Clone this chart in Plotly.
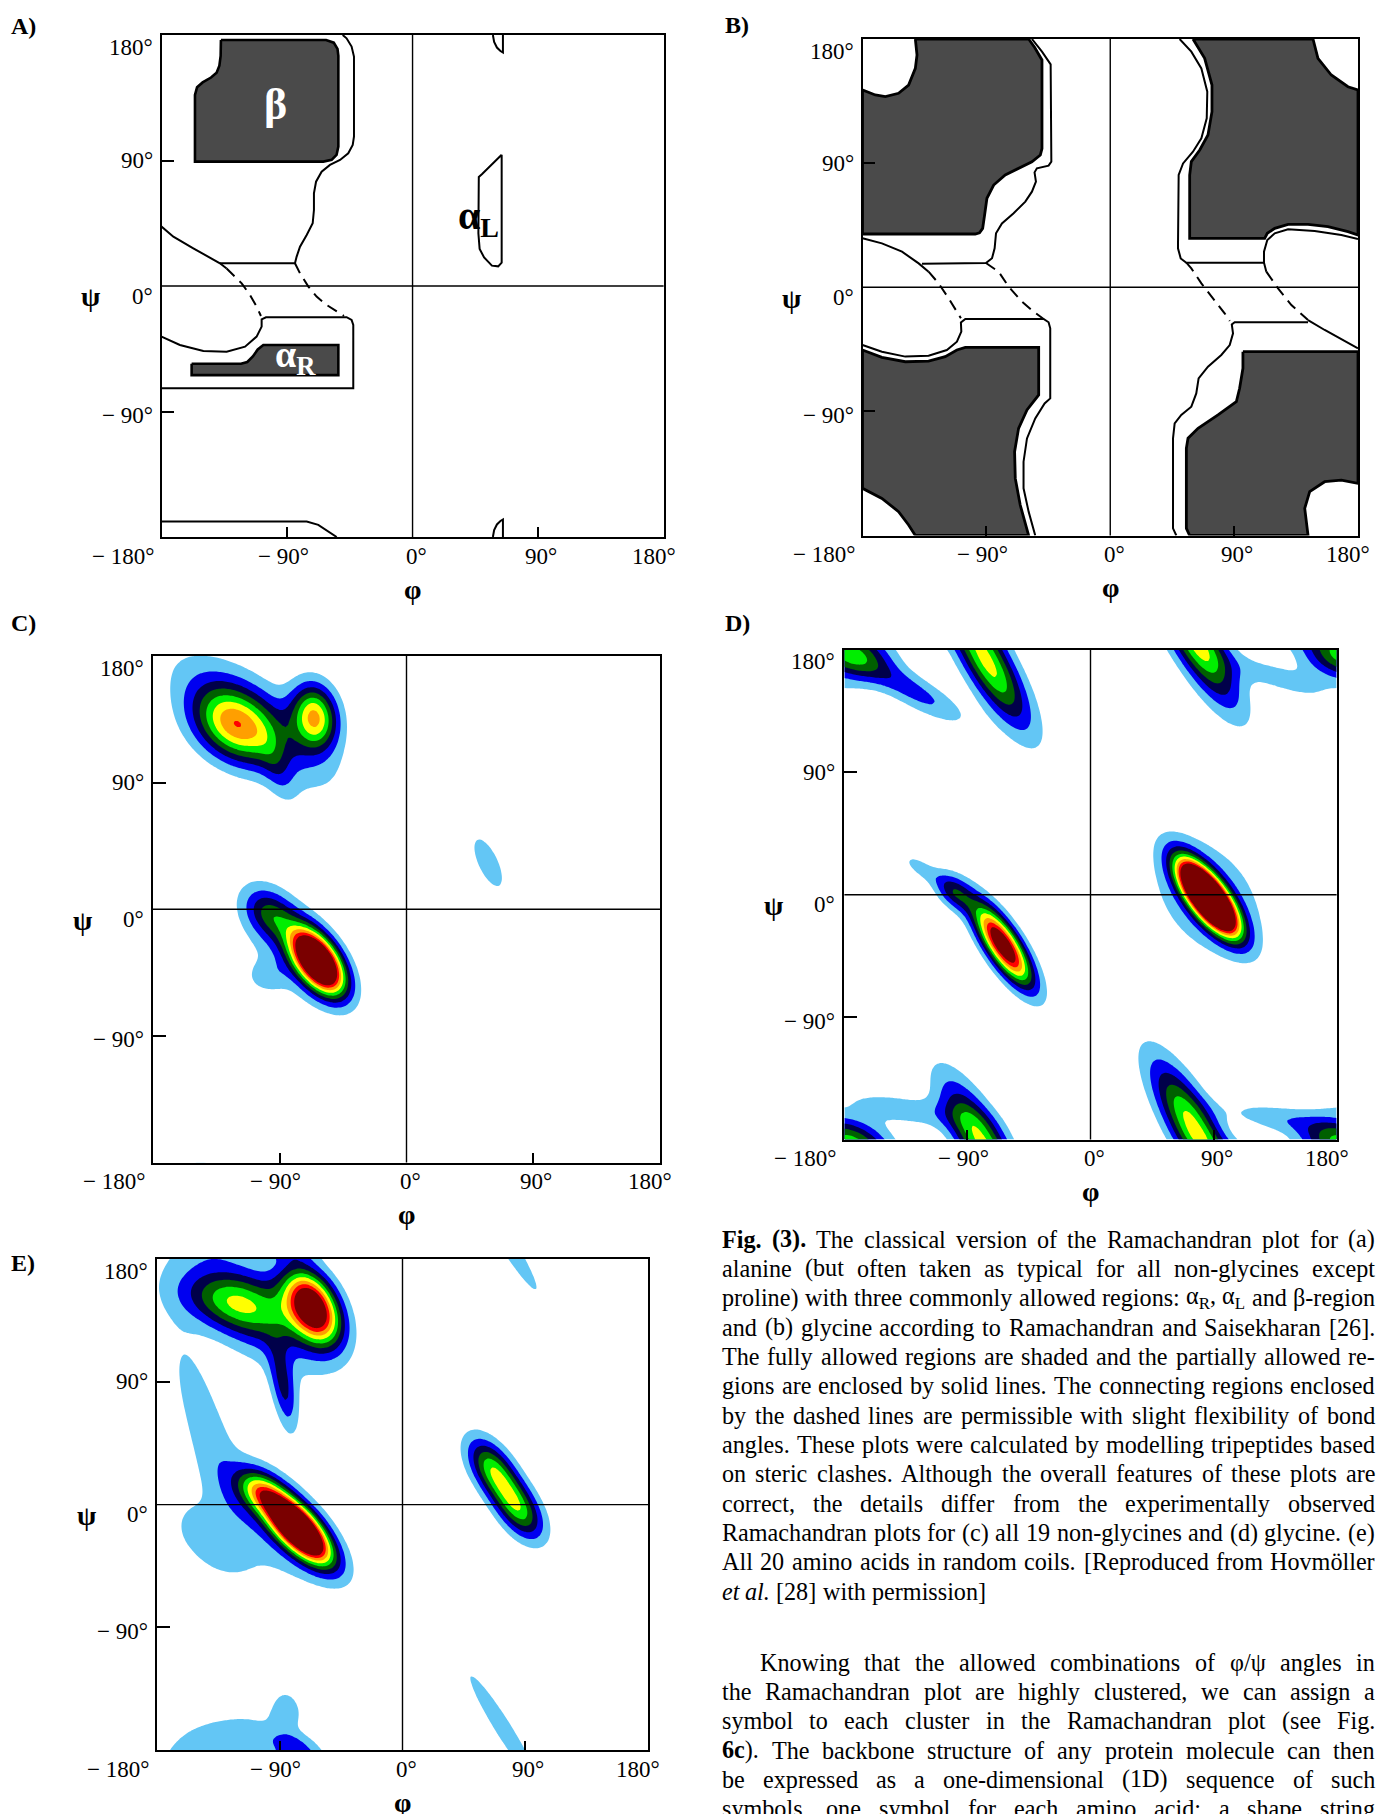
import re
import os
import glob
import struct
import numpy as np
import plotly.graph_objects as go

W, H = 1376, 1814

# ---------------------------------------------------------------------------
# Panel boxes on the page (pixels): left, right, top, bottom
PANEL_BOX = {
    "A": (161.5, 663.6, 35.0, 537.0),
    "B": (862.5, 1358.0, 39.0, 535.5),
    "C": (153.0, 660.0, 656.0, 1162.5),
    "D": (844.4, 1336.6, 649.8, 1139.6),
    "E": (157.0, 648.0, 1259.0, 1750.3),
}
PANEL_LETTER_POS = {"A": (9, 26), "B": (723, 25), "C": (9, 623), "D": (723, 623), "E": (9, 1263)}

X_TICK_VALUES = [-180, -90, 0, 90, 180]
X_TICK_TEXT = ["\u2212 180°", "\u2212 90°", "0°", "90°", "180°"]
Y_TICK_VALUES = [180, 90, 0, -90]
Y_TICK_TEXT = ["180°", "90°", "0°", "\u2212 90°"]

# ---------------------------------------------------------------------------
# (A) alanine, classical steric map: (phi, psi) outlines in degrees
A_BETA_SHADE = [(-137.4, 176.4), (-62, 176.4), (-56.5, 174.5), (-53.8, 170), (-53.2, 165),
                (-53.2, 100), (-54.5, 94), (-58, 90.5), (-64, 89.2), (-156, 89.2), (-156, 137),
                (-154.5, 142.5), (-150.5, 146), (-144.5, 149.5), (-140.5, 153), (-138.5, 158),
                (-137.6, 165), (-137.4, 176.4)]
A_ALPHAR_SHADE = [(-158.4, -55.8), (-123, -55.8), (-118.5, -54.5), (-114.5, -50.5), (-111, -45.5),
                  (-107, -42.3), (-53.2, -42.3), (-53.2, -63.9), (-158.4, -63.9), (-158.4, -55.8)]
A_DIAG = [(-180, 42.6), (-171.5, 35.4), (-157.2, 27), (-145.2, 19.9), (-138.1, 16.3), (-133.3, 12.5)]
A_BETA_LINE = [(-138.1, 16.3), (-84.3, 16.3), (-83.1, 21.1), (-80.7, 28.2), (-75.9, 36.6),
               (-71.6, 45), (-70.7, 54.5), (-70.7, 66.5), (-69.2, 74.8), (-65.2, 82), (-59.2, 86.8),
               (-52, 90.4), (-46.1, 95.2), (-42.9, 101.1), (-42, 107.1), (-42, 164.5),
               (-43.7, 171.7), (-47.3, 177.6), (-50.1, 180)]
A_DASH_LEFT = [(-133.3, 12.5), (-128, 7), (-122.5, 1.9), (-116.6, -6.4), (-111.8, -14.8), (-108.7, -21.5)]
A_DASH_RIGHT = [(-84.3, 16.3), (-80.7, 9.1), (-74.7, -0.4), (-68.8, -7.6), (-61.6, -13.6),
                (-54.4, -18.4), (-49.2, -21.5)]
A_ALPHAR_LINE = [(-180, -36.3), (-166.8, -42.3), (-150, -46.6), (-133.3, -47.1), (-120.1, -43.5),
                 (-111.8, -36.3), (-108.2, -29.1), (-108.2, -23.9), (-105.1, -22.4), (-47.3, -22.4),
                 (-43.7, -24.3), (-42.5, -27.9), (-42.5, -73.3), (-180, -73.3)]
A_BOTTOM_LINE = [(-180, -168.9), (-75.9, -168.9), (-67.6, -171.3), (-60.4, -176.1), (-54.4, -180)]
A_ALPHAL_LINE = [(63.9, 94.1), (63.9, 16.8), (61.4, 14.1), (56.9, 14.6), (51.3, 20.5), (48.1, 26.6),
                 (47.2, 37.8), (47.5, 78.2), (49.7, 80.2), (63.9, 94.1)]
A_TOP_ARC = [(57.6, 180), (58.5, 175), (60.5, 171), (63, 168.5), (64.8, 167.5), (64.8, 180)]
A_BOTTOM_ARC = [(57.6, -180), (58.5, -175), (60.5, -171), (63, -168.5), (64.8, -167.5), (64.8, -180)]

# (B) glycine, classical steric map
B_UL_SHADE = [(-141.6, 180), (-59.3, 180), (-55, 174), (-50, 166), (-49.6, 164.8), (-49.6, 100.5),
              (-50.8, 95.9), (-56.9, 91), (-66.6, 86.2), (-76.3, 81.4), (-84.7, 74.1), (-89.6, 64.5),
              (-91.3, 52.4), (-92.7, 42.7), (-95, 39.5), (-98.1, 38.6), (-180, 38.6), (-180, 143),
              (-170.7, 139.4), (-163.4, 138.2), (-153.8, 140.6), (-146.5, 146.6), (-141.6, 158.7),
              (-140.4, 168.4), (-141.6, 180)]
B_LL_SHADE = [(-180, -45.5), (-165.9, -50.8), (-148.9, -54), (-132, -53.5), (-119.9, -50.3),
              (-111.4, -45.5), (-105.3, -43.6), (-52, -43.6), (-52, -78.1), (-55.7, -83), (-60.5, -89),
              (-66.6, -102.3), (-69.5, -119.2), (-69, -138.6), (-65.4, -157.9), (-59.3, -180),
              (-141.6, -180), (-146.5, -172.4), (-153.8, -162.7), (-165.9, -153.1), (-180, -145.8),
              (-180, -45.5)]
B_UR_SHADE = [(60.1, 180), (68.6, 166), (73.9, 146.6), (73.9, 127.3), (71, 110.4), (65, 99.5),
              (58.9, 91.1), (57.7, 81.4), (57.7, 35.5), (112.2, 35.5), (114.1, 39.1), (119.5, 42.7),
              (129.2, 45.6), (143.7, 45.6), (158.2, 43.9), (172.7, 40.3), (180, 37.9), (180, 143),
              (172.7, 145.4), (160.6, 153.9), (150.9, 166), (147.3, 180), (60.1, 180)]
B_LR_SHADE = [(96.4, -46.7), (180, -46.7), (180, -142.2), (167.9, -139.8), (155.8, -141),
              (144.9, -148.2), (141.3, -160.3), (143.7, -180), (57.7, -180), (55.3, -174.8),
              (55.3, -116.8), (56.5, -109.5), (63.8, -102.3), (78.3, -92.6), (91.6, -83), (94, -73.3),
              (96.4, -58.8), (96.4, -46.7)]
B_SOLID_LINES = [
    [(-56.9, 180), (-49.6, 170.8), (-43.3, 161.6), (-42.8, 91.1), (-44.8, 88.2), (-53.3, 86.2),
     (-55, 83.3), (-54, 76.6), (-56.9, 69.3), (-61.7, 62.1), (-70.2, 53.6), (-78.7, 46.3), (-83, 39.1),
     (-84, 28.2), (-85.9, 21), (-90.3, 17.6), (-136.8, 17.1)],
    [(-180, 35.5), (-165.9, 31.8), (-151.3, 25.8), (-139.2, 17.3), (-132, 11.3)],
    [(-180, -41.9), (-165.9, -46.7), (-148.9, -50.3), (-132, -49.6), (-118.7, -45.5), (-111.4, -39.5),
     (-108.2, -32.2), (-108.5, -25.5), (-105.3, -23), (-48.4, -23), (-44.8, -25.4), (-43.6, -29.8),
     (-43.6, -80.6), (-47.7, -84.2), (-54.5, -95.1), (-60.5, -109.6), (-63, -126.5), (-63, -145.8),
     (-59.3, -162.7), (-54.5, -180)],
    [(50.4, 180), (58.9, 170.8), (66.2, 158.7), (70.5, 141.8), (70.1, 122.5), (66.2, 108), (60.1, 98.3),
     (52.9, 89.8), (49.7, 81.4), (49.2, 28.2), (51.2, 20.9), (55.3, 17.8), (111.7, 17.8)],
    [(180, 35), (167.9, 37.9), (148.5, 40.8), (129.2, 42), (119.5, 39.1), (114.1, 34.2), (111.7, 25.8),
     (111.7, 17.8), (113.4, 11.3)],
    [(143.7, -23.8), (155.8, -31), (180, -44.3)],
    [(143.7, -25.4), (90.4, -25.4), (88.3, -27), (89.2, -33.4), (86.8, -41.9), (80.7, -49.1),
     (71, -57.6), (64.2, -66.1), (62.5, -77), (58.9, -86.6), (51.6, -92.6), (46.8, -98.7),
     (45.6, -109.6), (45.6, -174.8), (48, -180)],
]
B_DASHED_LINES = [
    [(-132, 11.3), (-124.7, 2.8), (-117.4, -8.1), (-111.4, -17.7), (-108.5, -22.5)],
    [(-90.3, 17.6), (-81.1, 11.3), (-73.8, 0.4), (-64.1, -10.5), (-55.7, -17.7), (-48.4, -23)],
    [(113.4, 11.3), (121.9, -0.8), (131.6, -12.9), (143.7, -23.8)],
    [(55.3, 17.8), (58.9, 13.7), (66.2, 2.8), (75.9, -9.3), (83.1, -18.9), (86.8, -24.5)],
]

# ---------------------------------------------------------------------------
# (C)-(E) observed phi/psi densities, each cluster described by a rotated
# Gaussian peak: centre (phi, psi), major/minor widths, tilt, height
C_PHI = [-63, -97, -85, -100, -123, -65, -108, -92, 58]
C_PSI = [-37, -3, -25, -48, 130, 137, 133, 100, 33]
C_SA = [18, 14, 32, 10, 22, 16, 45, 18, 20]
C_SB = [9.5, 10, 17, 8, 16, 11, 18, 7, 7.5]
C_ANG = [-55, -45, -55, 0, -35, -80, -38, -70, -65]
C_AMP = [15, 3.2, 1.7, 1.2, 5.7, 6.8, 2.8, 1.3, 1.5]

D_PHI = [86, 86, -64, -100, -125, -76, 76, -176, -130, 140, 135, -135]
D_PSI = [-2, -2, -37, 2, 20, 172, -172, 176, 150, -165, 160, -158]
D_SA = [21, 35, 24, 12, 12, 38, 38, 20, 30, 30, 35, 35]
D_SB = [8, 25, 8, 7, 5, 11, 11, 12, 8, 7, 8, 8]
D_ANG = [-53, -53, -57, -45, -35, -60, -60, -15, -30, -10, -20, -10]
D_AMP = [21, 2, 11, 3.5, 1.3, 6.4, 6.4, 5.0, 2.4, 1.6, 1.3, 1.5]

E_PHI = [-66, -125, -105, -87, -145, -85, -77, -105, -95, -150, -130, 66, 85, 74, -125, -85]
E_PSI = [145, 148, 140, 85, 60, 186, -17, 10, -15, -20, -40, 26, -3, -164, -165, -150]
E_SA = [20, 28, 40, 22, 55, 14, 22, 14, 40, 16, 12, 18, 18, 58, 30, 12]
E_SB = [12, 14, 20, 6, 12, 6, 9, 9, 22, 12, 8, 9.5, 9.5, 7.5, 10, 8]
E_ANG = [-62, -15, -40, -80, -72, -10, -47, -40, -45, -60, -20, -56, -56, -58, 15, -80]
E_AMP = [11, 3.9, 2.8, 3.0, 1.5, 1.4, 16, 4, 1.7, 1.4, 1.2, 5.3, 5.3, 1.35, 1.0, 1.3]

# the random-coil map (E) is only continued across psi = ±180
WRAP_PHI = {"C": True, "D": True, "E": False}

DENSITY_COLORS = ["#ffffff", "#63c6f5", "#0000f0", "#00004a", "#006000",
                  "#00ee00", "#ffff00", "#ff9f00", "#ff0000", "#7a0000"]

# ---------------------------------------------------------------------------
CAPTION = [
    "<b>Fig.</b> <b>(3).</b> The classical version of the Ramachandran plot for (a)",
    "alanine (but often taken as typical for all non-glycines except",
    "proline) with three commonly allowed regions: α<sub>R</sub>, α<sub>L</sub> and β-region",
    "and (b) glycine according to Ramachandran and Saisekharan [26].",
    "The fully allowed regions are shaded and the partially allowed re-",
    "gions are enclosed by solid lines. The connecting regions enclosed",
    "by the dashed lines are permissible with slight flexibility of bond",
    "angles. These plots were calculated by modelling tripeptides based",
    "on steric clashes. Although the overall features of these plots are",
    "correct, the details differ from the experimentally observed",
    "Ramachandran plots for (c) all 19 non-glycines and (d) glycine. (e)",
    "All 20 amino acids in random coils. [Reproduced from Hovmöller",
    "<i>et</i> <i>al.</i> [28] with permission]",
]
BODY = [
    "Knowing that the allowed combinations of φ/ψ angles in",
    "the Ramachandran plot are highly clustered, we can assign a",
    "symbol to each cluster in the Ramachandran plot (see Fig.",
    "<b>6c</b>). The backbone structure of any protein molecule can then",
    "be expressed as a one-dimensional (1D) sequence of such",
    "symbols, one symbol for each amino acid; a shape string",
]

SERIF = "Liberation Serif, Times New Roman, serif"
TEXT_LEFT, TEXT_RIGHT = 722.0, 1375.0
CAPTION_TOP, BODY_TOP, LINE_STEP = 1239.0, 1662.0, 29.35
BODY_INDENT = 38.0


# ---------------------------------------------------------------------------
# Advance widths straight from the TrueType tables, used to justify the text
class FontMetrics:
    def __init__(self, path):
        data = open(path, "rb").read()
        ntab = struct.unpack(">H", data[4:6])[0]
        tab = {}
        for i in range(ntab):
            tag, _, off, _ = struct.unpack(">4sIII", data[12 + 16 * i: 28 + 16 * i])
            tab[tag.decode("latin-1")] = off
        head, hhea, hmtx, cmap = tab["head"], tab["hhea"], tab["hmtx"], tab["cmap"]
        self.upem = struct.unpack(">H", data[head + 18: head + 20])[0]
        nhm = struct.unpack(">H", data[hhea + 34: hhea + 36])[0]
        self.adv = [struct.unpack(">H", data[hmtx + 4 * i: hmtx + 4 * i + 2])[0] for i in range(nhm)]
        nsub = struct.unpack(">H", data[cmap + 2: cmap + 4])[0]
        sub = None
        for i in range(nsub):
            pid, eid, so = struct.unpack(">HHI", data[cmap + 4 + 8 * i: cmap + 12 + 8 * i])
            fmt = struct.unpack(">H", data[cmap + so: cmap + so + 2])[0]
            if fmt == 4 and (sub is None or (pid == 3 and eid == 1)):
                sub = cmap + so
        seg2 = struct.unpack(">H", data[sub + 6: sub + 8])[0]
        seg = seg2 // 2
        p = sub + 14
        self.end = struct.unpack(">%dH" % seg, data[p: p + seg2]); p += seg2 + 2
        self.start = struct.unpack(">%dH" % seg, data[p: p + seg2]); p += seg2
        self.delta = struct.unpack(">%dh" % seg, data[p: p + seg2]); p += seg2
        self.ro_pos = p
        self.ro = struct.unpack(">%dH" % seg, data[p: p + seg2])
        self.data = data

    def glyph(self, ch):
        code = ord(ch)
        for i, e in enumerate(self.end):
            if e >= code:
                if self.start[i] > code:
                    return 0
                if self.ro[i] == 0:
                    return (code + self.delta[i]) & 0xFFFF
                addr = self.ro_pos + 2 * i + self.ro[i] + 2 * (code - self.start[i])
                g = struct.unpack(">H", self.data[addr: addr + 2])[0]
                return (g + self.delta[i]) & 0xFFFF if g else 0
        return 0

    def width(self, text, size):
        total = 0
        for ch in text:
            g = self.glyph(ch)
            total += self.adv[min(g, len(self.adv) - 1)]
        return total * size / self.upem


class RoughMetrics:
    def __init__(self, factor):
        self.factor = factor

    def width(self, text, size):
        return len(text) * self.factor * size


def find_font(filename):
    for root in ["/usr/share/fonts", "/usr/local/share/fonts",
                 os.path.expanduser("~/.fonts"), os.path.expanduser("~/.local/share/fonts")]:
        hits = glob.glob(os.path.join(root, "**", filename), recursive=True)
        if hits:
            return hits[0]
    return None


def load_metrics(filename, factor):
    path = find_font(filename)
    if path:
        try:
            return FontMetrics(path)
        except Exception:
            pass
    return RoughMetrics(factor)


METRICS = {
    "r": load_metrics("LiberationSerif-Regular.ttf", 0.45),
    "b": load_metrics("LiberationSerif-Bold.ttf", 0.48),
    "i": load_metrics("LiberationSerif-Italic.ttf", 0.44),
}
TAG = re.compile(r"(<[^>]+>)")


def measure(word, size):
    bold = ital = sub = False
    w = 0.0
    for tok in TAG.split(word):
        if not tok:
            continue
        if tok.startswith("<"):
            closing = tok.startswith("</")
            name = tok.strip("</>").lower()
            if name == "b":
                bold = not closing
            elif name == "i":
                ital = not closing
            elif name == "sub":
                sub = not closing
            continue
        fm = METRICS["b" if bold else ("i" if ital else "r")]
        w += fm.width(tok, size * (0.7 if sub else 1.0))
    return w


def fitted_text_size(blocks, ref=22.0):
    # largest size at which every justified line still fits with plain spaces
    best = 40.0
    for lines, indent, justify_last in blocks:
        for n, line in enumerate(lines):
            if n == len(lines) - 1 and not justify_last:
                continue
            words = line.split(" ")
            natural = sum(measure(w, ref) for w in words) + (len(words) - 1) * measure(" ", ref)
            avail = TEXT_RIGHT - TEXT_LEFT - (indent if n == 0 else 0)
            best = min(best, ref * avail / natural)
    return best * 0.995


TEXT_SIZE = fitted_text_size([(CAPTION, 0.0, False), (BODY, BODY_INDENT, True)])

# ---------------------------------------------------------------------------
GRID = np.arange(-180.0, 180.01, 2.0)
PH, PS = np.meshgrid(GRID, GRID)


def density(phis, psis, sas, sbs, angs, amps, wrap_phi=True):
    z = np.zeros_like(PH)
    phi_shifts = (-360.0, 0.0, 360.0) if wrap_phi else (0.0,)
    for p0, q0, a, b, t, amp in zip(phis, psis, sas, sbs, angs, amps):
        th = np.radians(t)
        c, s = np.cos(th), np.sin(th)
        for dx in phi_shifts:
            for dy in (-360.0, 0.0, 360.0):
                dp = PH - (p0 + dx)
                dq = PS - (q0 + dy)
                u = dp * c + dq * s
                v = -dp * s + dq * c
                z += amp * np.exp(-0.5 * ((u / a) ** 2 + (v / b) ** 2))
    return z


def px(x):
    return x / W


def py(y):
    return 1 - y / H


fig = go.Figure()
AX = {}
for i, key in enumerate("ABCDE", start=1):
    AX[key] = ("x" if i == 1 else f"x{i}", "y" if i == 1 else f"y{i}")

annotations = []
shapes = []


def add_path(key, pts, dash=None, width=2.0, fill=None):
    xs = [p[0] for p in pts]
    ys = [p[1] for p in pts]
    xa, ya = AX[key]
    fig.add_trace(go.Scatter(
        x=xs, y=ys, xaxis=xa, yaxis=ya, mode="lines",
        line=dict(color="black", width=width, dash=dash),
        fill="toself" if fill else None, fillcolor=fill,
        hoverinfo="skip", showlegend=False))


SHADE = "#4a4a4a"
# Panel A
add_path("A", A_BETA_SHADE, width=2.6, fill=SHADE)
add_path("A", A_ALPHAR_SHADE, width=2.6, fill=SHADE)
for line in (A_DIAG, A_BETA_LINE, A_ALPHAR_LINE, A_BOTTOM_LINE, A_ALPHAL_LINE, A_TOP_ARC, A_BOTTOM_ARC):
    add_path("A", line)
for line in (A_DASH_LEFT, A_DASH_RIGHT):
    add_path("A", line, dash="11px,7px")

# Panel B
for region in (B_UL_SHADE, B_LL_SHADE, B_UR_SHADE, B_LR_SHADE):
    add_path("B", region, width=2.8, fill=SHADE)
for line in B_SOLID_LINES:
    add_path("B", line)
for line in B_DASHED_LINES:
    add_path("B", line, dash="11px,7px")

# Panels C, D, E
n_levels = len(DENSITY_COLORS) - 1
colorscale = [[k / n_levels, col] for k, col in enumerate(DENSITY_COLORS)]
for key, comps in (("C", (C_PHI, C_PSI, C_SA, C_SB, C_ANG, C_AMP)),
                   ("D", (D_PHI, D_PSI, D_SA, D_SB, D_ANG, D_AMP)),
                   ("E", (E_PHI, E_PSI, E_SA, E_SB, E_ANG, E_AMP))):
    xa, ya = AX[key]
    fig.add_trace(go.Contour(
        x=GRID, y=GRID, z=density(*comps, wrap_phi=WRAP_PHI[key]), xaxis=xa, yaxis=ya,
        autocontour=False,
        contours=dict(start=1, end=n_levels, size=1, coloring="fill", showlines=False),
        colorscale=colorscale, showscale=False, line=dict(width=0, smoothing=1.0),
        hoverinfo="skip"))

# Region labels on the classical maps
annotations.append(dict(x=-98.6, y=130, xref="x", yref="y", text="<b>β</b>", showarrow=False,
                        xanchor="center", yanchor="middle",
                        font=dict(family=SERIF, size=44, color="white")))
annotations.append(dict(x=-84, y=-51, xref="x", yref="y", text="<b>α<sub>R</sub></b>", showarrow=False,
                        xanchor="center", yanchor="middle",
                        font=dict(family=SERIF, size=38, color="white")))
annotations.append(dict(x=47, y=49, xref="x", yref="y", text="<b>α<sub>L</sub></b>", showarrow=False,
                        xanchor="center", yanchor="middle",
                        font=dict(family=SERIF, size=40, color="black")))

# Axes, frames, zero lines and labels
layout_axes = {}
X_LABEL_SHIFT = {-90: -4, 0: 4, 90: 3}
Y_LABEL_SHIFT = {180: 12, 90: 0, 0: 10, -90: 4}
for i, key in enumerate("ABCDE", start=1):
    x0, x1, y0, y1 = PANEL_BOX[key]
    xa, ya = AX[key]
    common = dict(range=[-180, 180], showgrid=False, zeroline=False, showline=True, mirror=True,
                  linecolor="black", linewidth=1.5, ticks="inside", tickvals=[-90, 90],
                  tickcolor="black", tickwidth=1.5, showticklabels=False, fixedrange=True)
    layout_axes["xaxis" if i == 1 else f"xaxis{i}"] = dict(common, domain=[px(x0), px(x1)], anchor=ya,
                                                           ticklen=10)
    layout_axes["yaxis" if i == 1 else f"yaxis{i}"] = dict(common, domain=[py(y1), py(y0)], anchor=xa,
                                                           ticklen=13)
    shapes.append(dict(type="line", xref=xa, yref=f"{ya} domain", x0=0, x1=0, y0=0, y1=1,
                       line=dict(color="black", width=1.4), layer="above"))
    shapes.append(dict(type="line", xref=f"{xa} domain", yref=ya, x0=0, x1=1, y0=0, y1=0,
                       line=dict(color="black", width=1.4), layer="above"))

    tick_font = dict(family=SERIF, size=23, color="black")
    for val, txt in zip(X_TICK_VALUES, X_TICK_TEXT):
        xp = x0 + (val + 180) / 360 * (x1 - x0)
        if val == -180:
            ann = dict(x=px(x0 - 6), xanchor="right")
        elif val == 180:
            ann = dict(x=px(x1 - 10), xanchor="center")
        else:
            ann = dict(x=px(xp + X_LABEL_SHIFT[val]), xanchor="center")
        ann.update(y=py(y1 + 19), yanchor="middle", xref="paper", yref="paper", text=txt,
                   showarrow=False, font=tick_font)
        annotations.append(ann)
    for val, txt in zip(Y_TICK_VALUES, Y_TICK_TEXT):
        yp = y0 + (180 - val) / 360 * (y1 - y0)
        annotations.append(dict(x=px(x0 - 7), xanchor="right", y=py(yp + Y_LABEL_SHIFT[val]),
                                yanchor="middle", xref="paper", yref="paper", text=txt,
                                showarrow=False, font=tick_font))
    title_font = dict(family=SERIF, size=28, color="black")
    y_zero = (y0 + y1) / 2
    x_zero = (x0 + x1) / 2
    annotations.append(dict(x=px(x0 - 71), y=py(y_zero + 11), xref="paper", yref="paper",
                            xanchor="center", yanchor="middle",
                            text="<b>ψ</b>", showarrow=False, font=title_font))
    annotations.append(dict(x=px(x_zero), y=py(y1 + 52), xref="paper", yref="paper",
                            xanchor="center", yanchor="middle",
                            text="<b>φ</b>", showarrow=False, font=title_font))
    lx, ly = PANEL_LETTER_POS[key]
    annotations.append(dict(x=px(lx), y=py(ly), xanchor="left", yanchor="middle", xref="paper",
                            yref="paper", text=f"<b>{key})</b>", showarrow=False,
                            font=dict(family=SERIF, size=24, color="black")))


# Justified caption and body text, one annotation per word
def set_lines(lines, top, first_indent, justify_last):
    space = measure(" ", TEXT_SIZE)
    for n, line in enumerate(lines):
        words = line.split(" ")
        widths = [measure(w, TEXT_SIZE) for w in words]
        left = TEXT_LEFT + (first_indent if n == 0 else 0)
        avail = TEXT_RIGHT - left
        last = n == len(lines) - 1
        if len(words) > 1 and (not last or justify_last):
            gap = max((avail - sum(widths)) / (len(words) - 1), 0.6 * space)
        else:
            gap = space
        x = left
        yc = top + n * LINE_STEP
        for w, wd in zip(words, widths):
            annotations.append(dict(x=px(x), y=py(yc), xanchor="left", yanchor="middle",
                                    xref="paper", yref="paper", text=w, showarrow=False,
                                    borderpad=0, borderwidth=0,
                                    font=dict(family=SERIF, size=TEXT_SIZE, color="black")))
            x += wd + gap


set_lines(CAPTION, CAPTION_TOP, 0.0, False)
set_lines(BODY, BODY_TOP, BODY_INDENT, True)

fig.update_layout(
    width=W, height=H, margin=dict(l=0, r=0, t=0, b=0),
    paper_bgcolor="white", plot_bgcolor="white", showlegend=False,
    annotations=annotations, shapes=shapes, **layout_axes)

fig.write_html("out.html")
